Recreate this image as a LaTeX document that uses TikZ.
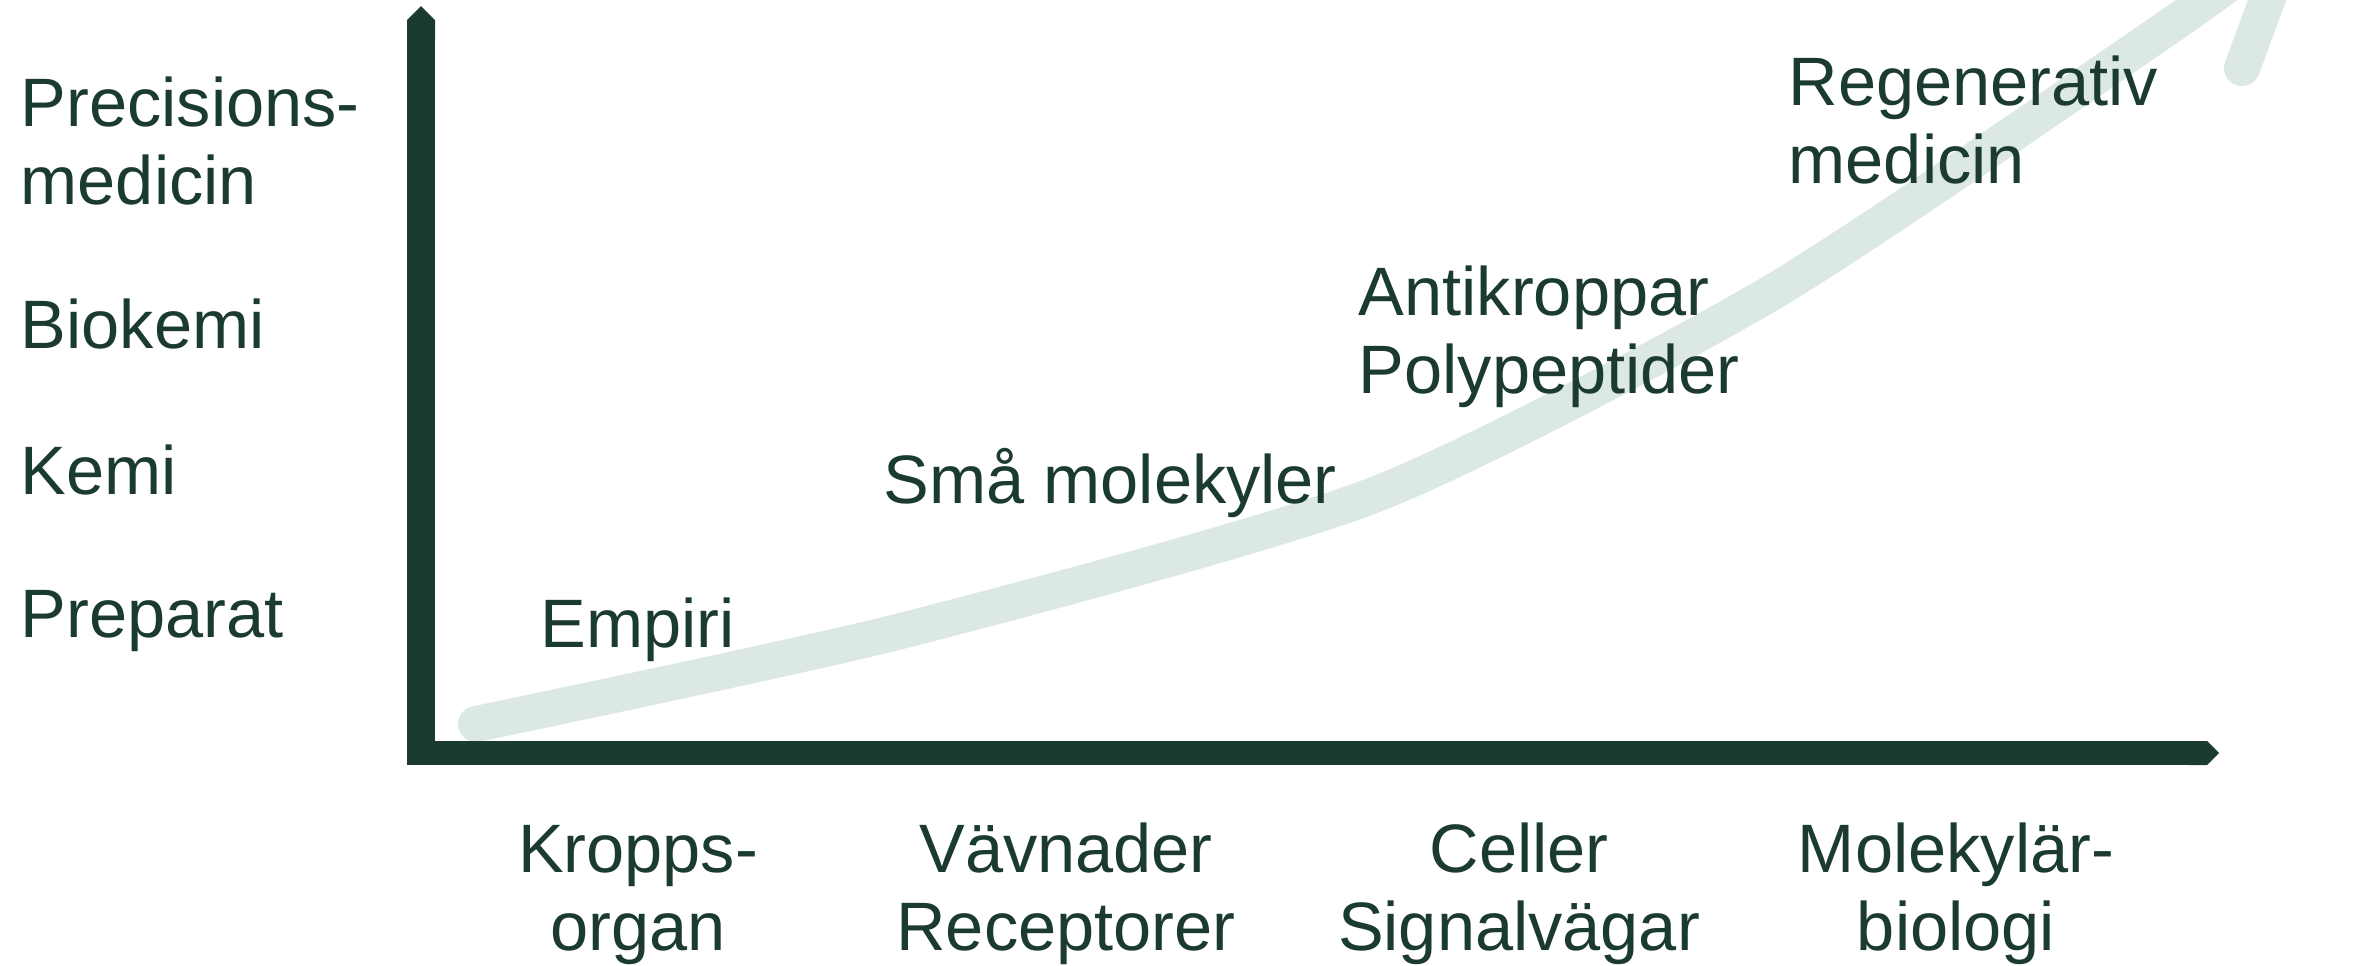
\documentclass[tikz,border=0pt]{standalone}
\usepackage{fontspec}
\setmainfont{Liberation Sans}
\usetikzlibrary{arrows.meta}
\definecolor{axisgreen}{RGB}{27,59,46}
\definecolor{trendgreen}{RGB}{220,232,226}

\begin{document}
\begin{tikzpicture}[x=0.1mm, y=-0.1mm,
    every node/.style={font=\fontsize{19.5}{22}\selectfont, text=axisgreen, inner sep=0pt},
    lbl/.style={anchor=base west, align=left},
    tick/.style={anchor=base, align=center},
    axis/.style={draw=axisgreen, line width=#1, -{Triangle Cap[]}}]
    \useasboundingbox (0,0) rectangle (2354,965);
    \begin{scope}
    \clip (0,0) rectangle (2354,965);
    % Trend curve with open arrow head (tip above the frame)
    \coordinate (tip) at (2290,-62);
    \coordinate (barb) at (2242,68);
    \draw[trendgreen, line width=3.6mm, line cap=round, line join=round]
        plot[smooth, tension=0.4] coordinates {(476,724) (901,631) (1374,495) (1771,293) (2167,28) (2290,-62)}
        -- (barb);
    \end{scope}

    % Axes
    \coordinate (origin) at (421,765);
    \coordinate (ytop) at (421,6);
    \coordinate (xstart) at (407,753);
    \coordinate (xend) at (2219,753);
    \draw[axis=2.8mm] (origin) -- (ytop);
    \draw[axis=2.4mm] (xstart) -- (xend);

    % Y axis labels (base = last line)
    \node[lbl] (precision) at (20,204) {Precisions-\\medicin};
    \foreach \y/\txt/\nm in {348/Biokemi/biokemi, 494/Kemi/kemi, 637/Preparat/preparat} {
        \node[lbl] (\nm) at (20,\y) {\txt};
    }

    % Labels along the curve
    \node[lbl] (empiri) at (540,647) {Empiri};
    \node[lbl] (sma) at (883,503) {Små molekyler};
    \node[lbl] (antikroppar) at (1358,393) {Antikroppar\\Polypeptider};
    \node[lbl] (regenerativ) at (1788,183) {Regenerativ\\medicin};

    % X axis labels
    \foreach \x/\txt/\nm in {638/{Kropps-\\organ}/organ, 1066/{Vävnader\\Receptorer}/vavnader,
                             1519/{Celler\\Signalvägar}/celler, 1956/{Molekylär-\\biologi}/molbio} {
        \node[tick] (\nm) at (\x,950) {\txt};
    }
\end{tikzpicture}
\end{document}
